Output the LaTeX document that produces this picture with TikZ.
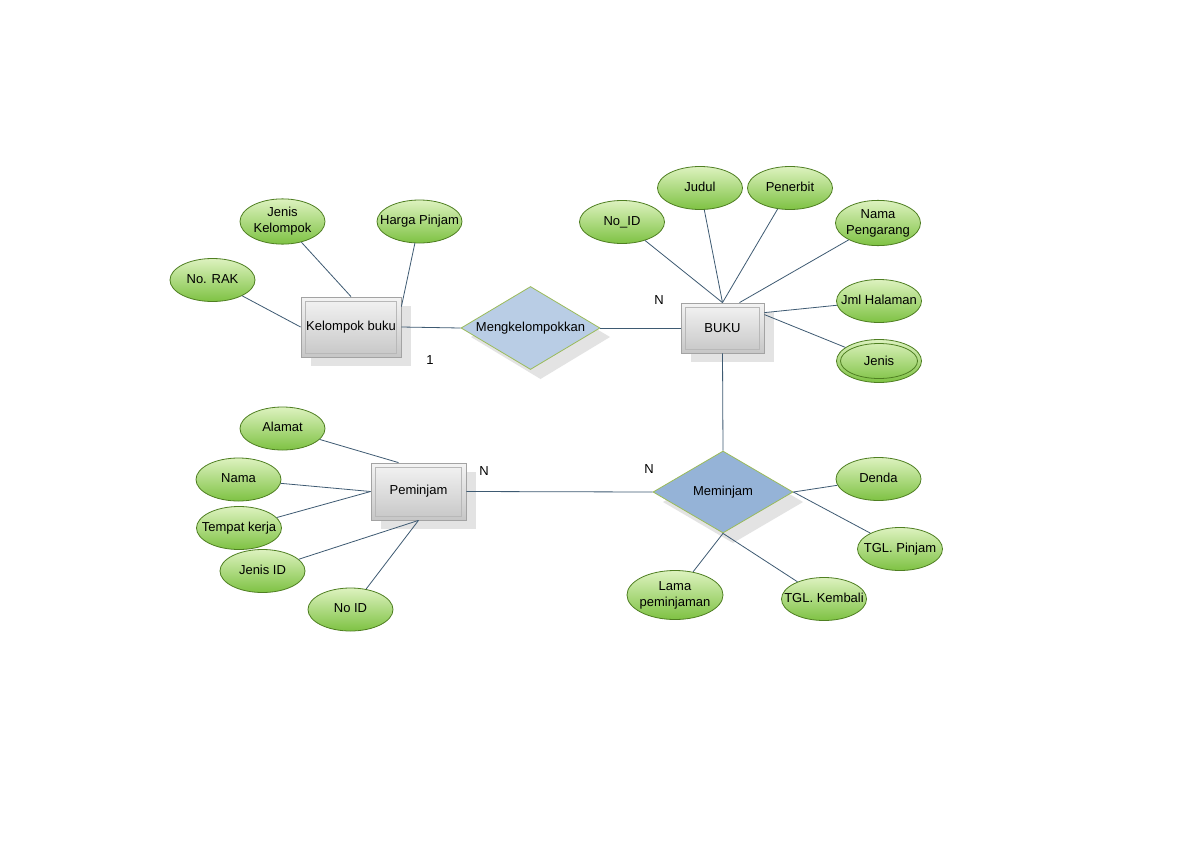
\documentclass[tikz,border=0pt]{standalone}
\usepackage{fontspec}
\setmainfont{Liberation Sans}
\usetikzlibrary{shapes.geometric,calc}
\definecolor{elltop}{HTML}{DDF2BF}
\definecolor{ellbot}{HTML}{7EC243}
\definecolor{ellline}{HTML}{4F7F22}
\definecolor{enttop}{HTML}{F4F4F4}
\definecolor{entbot}{HTML}{C6C6C6}
\definecolor{entline}{HTML}{A3A3A3}
\definecolor{entinner}{HTML}{B8B8B8}
\definecolor{shadowgray}{HTML}{E3E3E3}
\definecolor{relA}{HTML}{B9CDE5}
\definecolor{relB}{HTML}{95B3D7}
\definecolor{relline}{HTML}{9BBB59}
\definecolor{conn}{HTML}{3E5A72}
\newcommand{\atxt}[1]{\makebox[0pt][c]{\begin{tabular}{@{}c@{}}#1\end{tabular}}}
\tikzset{
  attr/.style={ellipse, draw=ellline, line width=0.8pt, top color=elltop, bottom color=ellbot,
    minimum width=85pt, minimum height=43pt, inner sep=0pt, font=\fontsize{13}{16}\selectfont},
  entity/.style={rectangle, draw=entline, line width=0.8pt, top color=enttop, bottom color=entbot,
    inner sep=0pt, font=\fontsize{13}{16}\selectfont},
  rel/.style={diamond, aspect=1.67, draw=relline, line width=0.8pt, inner sep=0pt, font=\fontsize{13}{16}\selectfont},
  conn/.style={draw=conn, line width=0.8pt},
  card/.style={font=\fontsize{13}{16}\selectfont, inner sep=0pt},
  inner/.style={draw=entinner, line width=0.6pt}
}
\begin{document}
\begin{tikzpicture}[x=1pt,y=-1pt]
\useasboundingbox[fill=white] (0,0) rectangle (1189,841);

% shadows
\fill[shadowgray] (311,306) rectangle (411,366);
\fill[shadowgray] (691,312) rectangle (774,362);
\fill[shadowgray] (381,472) rectangle (476,529);
\fill[shadowgray] (471,337) -- (540.5,296) -- (610,337) -- (540.5,379) -- cycle;
\fill[shadowgray] (663,502) -- (733,461) -- (803,502) -- (733,543) -- cycle;

% entities
\node[entity, minimum width=100pt, minimum height=60pt] (kb) at (351,327) {};
\draw[inner] ($(kb.north west)+(5,5)$) rectangle ($(kb.south east)+(-5,-4)$);
\node[card] at (kb) {Kelompok buku};

\node[entity, minimum width=83pt, minimum height=50pt] (buku) at (722.5,328) {};
\draw[inner] ($(buku.north west)+(5,5)$) rectangle ($(buku.south east)+(-5,-4)$);
\node[card] at (buku) {BUKU};

\node[entity, minimum width=95pt, minimum height=57pt] (pm) at (418.5,491.5) {};
\draw[inner] ($(pm.north west)+(5,5)$) rectangle ($(pm.south east)+(-5,-4)$);
\node[card] at (pm) {Peminjam};

% relationships
\node[rel, fill=relA, minimum width=139pt, minimum height=83pt] (mk) at (530.5,328) {\atxt{Mengkelompokkan}};
\node[rel, fill=relB, minimum width=140pt, minimum height=82pt] (mj) at (723,492) {\atxt{Meminjam}};

% attributes
\node[attr] (norak) at (212.5,280) {\atxt{No. RAK}};
\node[attr] (jk) at (282.5,221.5) {\atxt{Jenis\\Kelompok}};
\node[attr] (hp) at (419.5,221.5) {\atxt{Harga Pinjam}};
\node[attr] (noid1) at (622,222) {\atxt{No\_ID}};
\node[attr] (judul) at (700,188) {\atxt{Judul}};
\node[attr] (penerbit) at (790,188) {\atxt{Penerbit}};
\node[attr] (nama1) at (878,223) {\atxt{Nama\\Pengarang}};
\node[attr] (jml) at (879,301) {\atxt{Jml Halaman}};
\node[attr] (jenis) at (879,361) {};
\draw[ellline, line width=0.8pt] (jenis.center) ellipse (38.5 and 17.5);
\node[card] at (jenis) {Jenis};
\node[attr] (alamat) at (282.5,428.5) {\atxt{Alamat}};
\node[attr] (nama2) at (238.5,479.5) {\atxt{Nama}};
\node[attr] (tk) at (239,528) {\atxt{Tempat kerja}};
\node[attr] (jid) at (262.5,571) {\atxt{Jenis ID}};
\node[attr] (noid2) at (350.5,609.5) {\atxt{No ID}};
\node[attr] (denda) at (878.5,479) {\atxt{Denda}};
\node[attr] (tglp) at (900,549) {\atxt{TGL. Pinjam}};
\node[attr] (tglk) at (824,599) {\atxt{TGL. Kembali}};
\node[attr, minimum width=96pt, minimum height=49pt] (lama) at (675,595) {\atxt{Lama\\peminjaman}};

% connectors
\draw[conn] (norak) -- (kb.west);
\draw[conn] (jk) -- (kb.north);
\coordinate (kbhp) at ($(kb.north east)+(0,10)$);
\draw[conn] (hp) -- (kbhp);
\draw[conn] (kb.east) -- (mk.west);
\draw[conn] (mk.east) -- (buku.west);
\draw[conn] (noid1) -- (buku.north);
\draw[conn] (judul) -- (buku.north);
\draw[conn] (penerbit) -- (buku.north);
\coordinate (bnp) at ($(buku.north)+(17,0)$);
\draw[conn] (nama1) -- (bnp);
\coordinate (bjml) at ($(buku.north east)+(0,10)$);
\draw[conn] (jml) -- (bjml);
\coordinate (bjen) at ($(buku.north east)+(0,12)$);
\draw[conn] (jenis) -- (bjen);
\draw[conn] (buku.south) -- (mj.north);
\coordinate (pmal) at ($(pm.north)+(-20,0)$);
\draw[conn] (alamat) -- (pmal);
\draw[conn] (nama2) -- (pm.west);
\draw[conn] (tk) -- (pm.west);
\draw[conn] (jid) -- (pm.south);
\draw[conn] (noid2) -- (pm.south);
\draw[conn] (pm.east) -- (mj.west);
\draw[conn] (denda) -- (mj.east);
\draw[conn] (tglp) -- (mj.east);
\draw[conn] (lama) -- (mj.south);
\draw[conn] (tglk) -- (mj.south);

% cardinalities
\node[card] (c1) at (430,360) {1};
\node[card] (c2) at (659,300) {N};
\node[card] (c3) at (484,471) {N};
\node[card] (c4) at (649,469) {N};
\end{tikzpicture}
\end{document}
